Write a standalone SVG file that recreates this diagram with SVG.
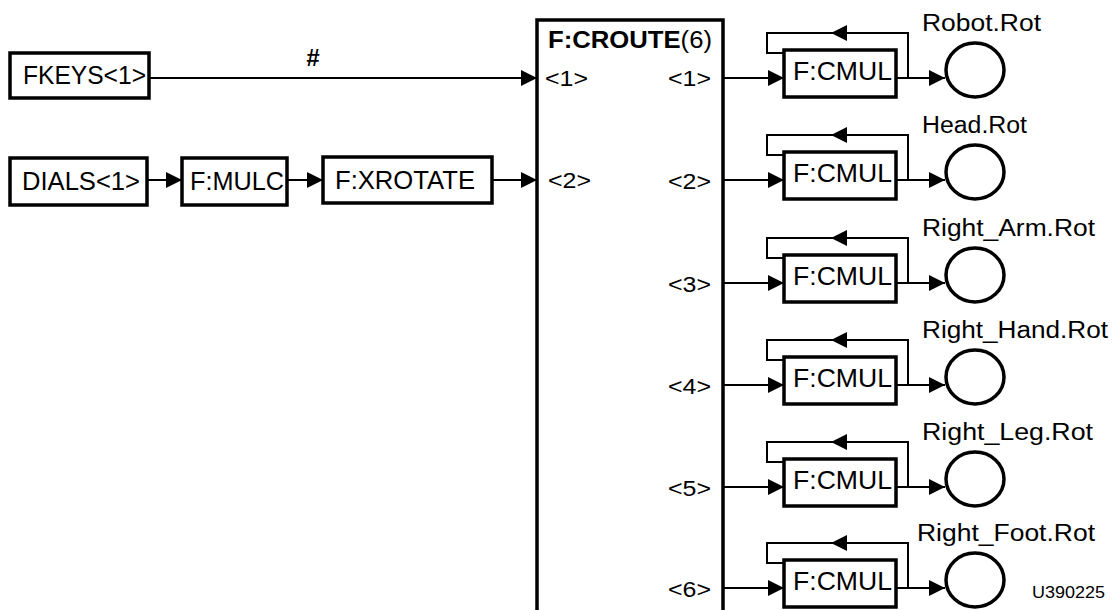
<svg xmlns="http://www.w3.org/2000/svg" width="1112" height="610" viewBox="0 0 1112 610">
<defs>
<marker id="ah" viewBox="0 0 16 16" refX="16" refY="8" markerWidth="16" markerHeight="16" markerUnits="userSpaceOnUse" orient="auto">
<path d="M0,0 L16,8 L0,16 z" fill="#000"/>
</marker>
<style>
text{font-family:"Liberation Sans",Arial,sans-serif;font-size:25px;fill:#000}
.box{fill:#fff;stroke:#000;stroke-width:3.5}
.circ{fill:none;stroke:#000;stroke-width:3.5}
.ln{fill:none;stroke:#000;stroke-width:2}
.arr{fill:none;stroke:#000;stroke-width:2;marker-end:url(#ah)}
.lbl{font-size:23px}
.port{font-size:22px}
</style>
</defs>
<rect width="1112" height="610" fill="#fff"/>

<g id="connectors">
<path class="arr" d="M149,78 H537"/>
<path class="arr" d="M147,180 H182"/>
<path class="arr" d="M287,180 H323"/>
<path class="arr" d="M492,180 H537"/>
<!-- row 1 -->
<path class="arr" d="M723,78 H784"/>
<path class="arr" d="M896,78 H945"/>
<path class="arr" d="M908,78 V33 H831"/>
<path class="ln" d="M832,33 H767 V53 H784"/>
<!-- row 2 -->
<path class="arr" d="M723,180 H784"/>
<path class="arr" d="M896,180 H945"/>
<path class="arr" d="M908,180 V135 H831"/>
<path class="ln" d="M832,135 H767 V155 H784"/>
<!-- row 3 -->
<path class="arr" d="M723,283 H784"/>
<path class="arr" d="M896,283 H945"/>
<path class="arr" d="M908,283 V238 H831"/>
<path class="ln" d="M832,238 H767 V258 H784"/>
<!-- row 4 -->
<path class="arr" d="M723,385 H784"/>
<path class="arr" d="M896,385 H945"/>
<path class="arr" d="M908,385 V340 H831"/>
<path class="ln" d="M832,340 H767 V360 H784"/>
<!-- row 5 -->
<path class="arr" d="M723,487 H784"/>
<path class="arr" d="M896,487 H945"/>
<path class="arr" d="M908,487 V442 H831"/>
<path class="ln" d="M832,442 H767 V462 H784"/>
<!-- row 6 -->
<path class="arr" d="M723,588 H784"/>
<path class="arr" d="M896,588 H945"/>
<path class="arr" d="M908,588 V543 H831"/>
<path class="ln" d="M832,543 H767 V563 H784"/>
<text x="306" y="66" font-style="italic" font-weight="bold" style="font-size:24px">#</text>
</g>

<g id="fkeys">
<rect class="box" x="10" y="53" width="139" height="45"/>
<text x="23" y="84" textLength="123" lengthAdjust="spacingAndGlyphs">FKEYS&lt;1&gt;</text>
</g>
<g id="dials">
<rect class="box" x="10" y="158" width="137" height="47"/>
<text x="22" y="190" textLength="118" lengthAdjust="spacingAndGlyphs">DIALS&lt;1&gt;</text>
</g>
<g id="mulc">
<rect class="box" x="182" y="158" width="105" height="47"/>
<text x="190" y="190" textLength="94" lengthAdjust="spacingAndGlyphs">F:MULC</text>
</g>
<g id="xrotate">
<rect class="box" x="323" y="157" width="169" height="46"/>
<text x="335" y="189" textLength="140" lengthAdjust="spacingAndGlyphs">F:XROTATE</text>
</g>

<g id="croute">
<rect class="box" x="537" y="20" width="186" height="620"/>
<text x="548" y="48" style="font-size:23px" textLength="164" lengthAdjust="spacingAndGlyphs"><tspan font-weight="bold">F:CROUTE</tspan>(6)</text>
<text class="port" x="545" y="86" textLength="43" lengthAdjust="spacingAndGlyphs">&lt;1&gt;</text>
<text class="port" x="548" y="188" textLength="43" lengthAdjust="spacingAndGlyphs">&lt;2&gt;</text>
<text class="port" x="668" y="86" textLength="43" lengthAdjust="spacingAndGlyphs">&lt;1&gt;</text>
<text class="port" x="668" y="189" textLength="43" lengthAdjust="spacingAndGlyphs">&lt;2&gt;</text>
<text class="port" x="668" y="292" textLength="43" lengthAdjust="spacingAndGlyphs">&lt;3&gt;</text>
<text class="port" x="668" y="394" textLength="43" lengthAdjust="spacingAndGlyphs">&lt;4&gt;</text>
<text class="port" x="668" y="496" textLength="43" lengthAdjust="spacingAndGlyphs">&lt;5&gt;</text>
<text class="port" x="668" y="597" textLength="43" lengthAdjust="spacingAndGlyphs">&lt;6&gt;</text>
</g>

<g id="cmul1">
<rect class="box" x="784" y="50" width="112" height="47"/>
<text x="793" y="80" textLength="99" lengthAdjust="spacingAndGlyphs">F:CMUL</text>
</g>
<g id="robot-rot">
<ellipse class="circ" cx="975" cy="70" rx="29" ry="27"/>
<text class="lbl" x="922" y="31" textLength="119" lengthAdjust="spacingAndGlyphs">Robot.Rot</text>
</g>

<g id="cmul2">
<rect class="box" x="784" y="152" width="112" height="47"/>
<text x="793" y="182" textLength="99" lengthAdjust="spacingAndGlyphs">F:CMUL</text>
</g>
<g id="head-rot">
<ellipse class="circ" cx="975" cy="172" rx="29" ry="27"/>
<text class="lbl" x="922" y="133" textLength="105" lengthAdjust="spacingAndGlyphs">Head.Rot</text>
</g>

<g id="cmul3">
<rect class="box" x="784" y="255" width="112" height="47"/>
<text x="793" y="285" textLength="99" lengthAdjust="spacingAndGlyphs">F:CMUL</text>
</g>
<g id="right-arm-rot">
<ellipse class="circ" cx="975" cy="275" rx="29" ry="27"/>
<text class="lbl" x="922" y="236" textLength="173" lengthAdjust="spacingAndGlyphs">Right_Arm.Rot</text>
</g>

<g id="cmul4">
<rect class="box" x="784" y="357" width="112" height="47"/>
<text x="793" y="387" textLength="99" lengthAdjust="spacingAndGlyphs">F:CMUL</text>
</g>
<g id="right-hand-rot">
<ellipse class="circ" cx="975" cy="377" rx="29" ry="27"/>
<text class="lbl" x="922" y="338" textLength="186" lengthAdjust="spacingAndGlyphs">Right_Hand.Rot</text>
</g>

<g id="cmul5">
<rect class="box" x="784" y="459" width="112" height="47"/>
<text x="793" y="489" textLength="99" lengthAdjust="spacingAndGlyphs">F:CMUL</text>
</g>
<g id="right-leg-rot">
<ellipse class="circ" cx="975" cy="479" rx="29" ry="27"/>
<text class="lbl" x="922" y="440" textLength="171" lengthAdjust="spacingAndGlyphs">Right_Leg.Rot</text>
</g>

<g id="cmul6">
<rect class="box" x="784" y="560" width="112" height="47"/>
<text x="793" y="590" textLength="99" lengthAdjust="spacingAndGlyphs">F:CMUL</text>
</g>
<g id="right-foot-rot">
<ellipse class="circ" cx="975" cy="580" rx="29" ry="27"/>
<text class="lbl" x="917" y="541" textLength="178" lengthAdjust="spacingAndGlyphs">Right_Foot.Rot</text>
</g>

<text x="1032" y="598" style="font-size:17px" textLength="73" lengthAdjust="spacingAndGlyphs">U390225</text>
</svg>
